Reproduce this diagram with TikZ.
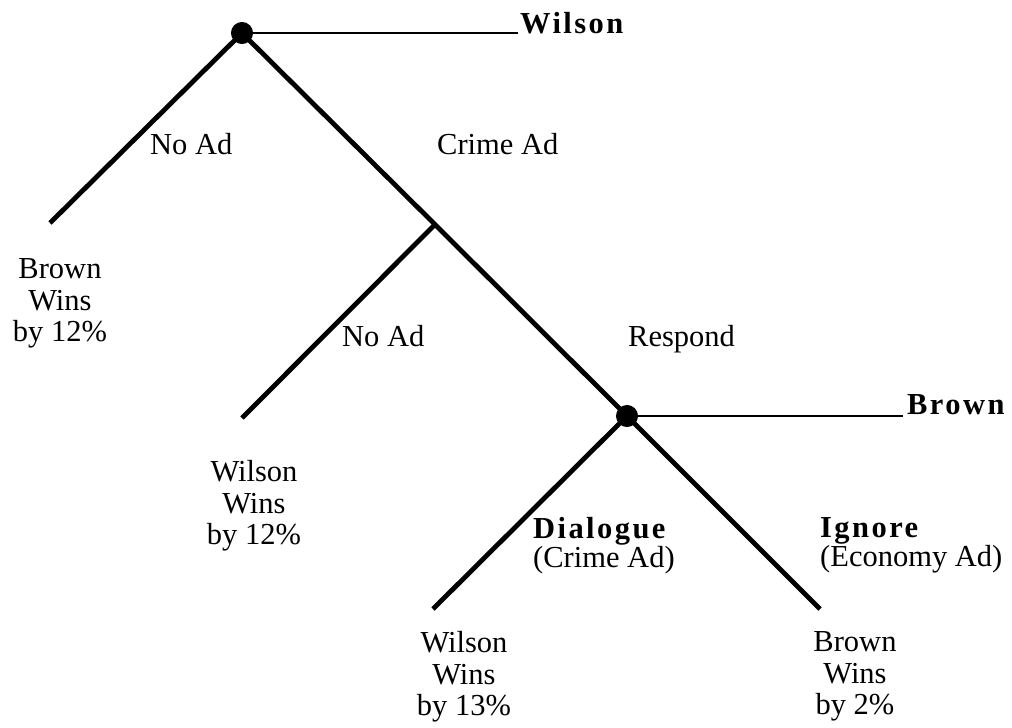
\documentclass[tikz,border=0pt]{standalone}
\usepackage{fontspec}
\setmainfont{Liberation Serif}
\newfontfamily\spaced[LetterSpace=8.0]{Liberation Serif}
\begin{document}
\begin{tikzpicture}[x=1pt,y=-1pt,
  branch/.style={line width=4.8pt},
  rulebar/.style={line width=2.5pt},
  dot/.style={circle,fill=black,draw=black,line width=1pt,inner sep=0pt,minimum size=21pt},
  lab/.style={font=\fontsize{30.5}{31.5}\selectfont,inner sep=0pt},
  player/.style={font=\fontsize{30.5}{31.5}\selectfont\spaced\bfseries,inner sep=0pt,anchor=base west},
  outcome/.style={lab,align=center,anchor=north}]
\useasboundingbox (0,0) rectangle (1012,728);
% positions
\coordinate (W) at (242,33);
\coordinate (B) at (627,416);
\coordinate (J) at (435,224.5);
\coordinate (WL) at (50,223);
\coordinate (JL) at (242,418);
\coordinate (BL) at (433,609);
\coordinate (BR) at (820,609);
\coordinate (WE) at (518,33);
\coordinate (BE) at (903,416);
% branches
\draw[branch] (W) -- (WL);
\draw[branch] (W) -- (J) -- (B);
\draw[branch] (J) -- (JL);
\draw[branch] (B) -- (BL);
\draw[branch] (B) -- (BR);
\draw[rulebar] (W) -- (WE);
\draw[rulebar] (B) -- (BE);
% decision nodes
\node[dot] (wn) at (W) {};
\node[dot] (bn) at (B) {};
% players
\node[player] (wilson) at (520,33) {Wilson};
\node[player] (brown) at (907,414) {Brown};
% action labels
\node[lab,anchor=base west] (noad1) at (150,154) {No Ad};
\node[lab,anchor=base west] (crime) at (437,154) {Crime Ad};
\node[lab,anchor=base west] (noad2) at (342,346) {No Ad};
\node[lab,anchor=base west] (respond) at (628,346) {Respond};
\node[lab,align=left,anchor=north west] (dialogue) at (533,517)
  {{\spaced\bfseries Dialogue}\\[-2.5pt](Crime Ad)};
\node[lab,align=left,anchor=north west] (ignore) at (820,517)
  {{\spaced\bfseries Ignore}\\[-2.5pt](Economy Ad)};
% outcomes
\node[outcome] (o1) at (60,258.5) {Brown\\Wins\\by 12\%};
\node[outcome] (o2) at (254,460.5) {Wilson\\Wins\\by 12\%};
\node[outcome] (o3) at (464,631.5) {Wilson\\Wins\\by 13\%};
\node[outcome] (o4) at (855,631.5) {Brown\\Wins\\by 2\%};
\end{tikzpicture}
\end{document}
